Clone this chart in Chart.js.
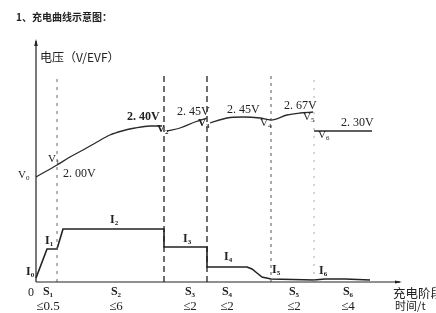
<!DOCTYPE html>
<html>
<head>
<meta charset="utf-8">
<script src="https://cdn.jsdelivr.net/npm/chart.js@4.4.0/dist/chart.umd.min.js"></script>
<style>
  html, body { margin: 0; padding: 0; background: #fff; }
</style>
</head>
<body>
<canvas id="chargeGraph" width="436" height="313"></canvas>
<script>
// stages along the time axis
const stages = ['S1', 'S2', 'S3', 'S4', 'S5', 'S6'];
const stageLimits = ['≤0.5', '≤6', '≤2', '≤2', '≤2', '≤4'];
const stageCenters = [12, 80, 154, 191, 258, 312];
const stageEnds = [21, 128, 171, 235, 278];

// voltage curve (schematic units, null = break)
const voltX = [0, 21, 34, 47, 61, 74, 86, 99, 114, 126, 128, 131, 144, 159, 171, 171, 174, 191, 207, 224, 235, 251, 264, 277];
const voltY = [105, 117, 125, 132, 140, 147, 151, 154, 156, 156, null, 151, 154, 160, 164, null, 159, 164, 165, 164, 162, 167, 169, 170];
const floatX = [278, 336];
const floatY = [151, 151];
const voltLabels = ['V0', 'V1', 'V2', 'V3', 'V4', 'V5', 'V6'];
const voltValues = ['2. 00V', '2. 40V', '2. 45V', '2. 45V', '2. 67V', '2. 30V'];

// current curve
const currX = [0, 11, 21, 27, 128, 128, 171, 171, 211, 216, 221, 226, 235, 278, 289, 309, 334];
const currY = [4, 33, 33, 53, 53, 35, 35, 15, 15, 13, 9, 5, 3, 2, 3, 3, 2];
const currLabels = ['I0', 'I1', 'I2', 'I3', 'I4', 'I5', 'I6'];

const toPoints = (xs, ys) => xs.map((v, i) => ({ x: v, y: ys[i] }));

const serif = '"Liberation Serif", "DejaVu Serif", serif';
const cjk = '"Noto Sans CJK SC", "Noto Sans", sans-serif';

function subText(ctx, main, sub, px, py, size, bold) {
    const w = bold ? 'bold ' : '';
    ctx.font = w + size + 'px ' + serif;
    ctx.fillText(main, px, py);
    const mw = ctx.measureText(main).width;
    ctx.font = w + Math.round(size * 0.62) + 'px ' + serif;
    ctx.fillText(sub, px + mw, py + size * 0.3);
}

const drawingPlugin = {
    id: 'drawing',
    afterDraw(chart) {
        const ctx = chart.ctx;
        const sx = chart.scales.x, sy = chart.scales.y;
        const X = v => sx.getPixelForValue(v);
        const Y = v => sy.getPixelForValue(v);
        ctx.save();
        ctx.fillStyle = '#222';
        ctx.strokeStyle = '#222';
        ctx.textBaseline = 'middle';

        // axes with arrows
        ctx.lineWidth = 1.2;
        ctx.beginPath();
        ctx.moveTo(X(0), Y(0));
        ctx.lineTo(X(0), Y(241));
        ctx.moveTo(X(0), Y(0));
        ctx.lineTo(X(364), Y(0));
        ctx.stroke();
        ctx.beginPath();
        ctx.moveTo(X(0), Y(243)); ctx.lineTo(X(-1.8), Y(236)); ctx.lineTo(X(1.8), Y(236)); ctx.closePath();
        ctx.moveTo(X(366), Y(0)); ctx.lineTo(X(359), Y(1.6)); ctx.lineTo(X(359), Y(-1.6)); ctx.closePath();
        ctx.fill();

        // title and axis names
        ctx.textAlign = 'left';
        ctx.font = 'bold 10px ' + cjk;
        ctx.fillText('1、充电曲线示意图：', 16, 17);
        ctx.font = '12px ' + cjk;
        ctx.fillText('电压（V/EVF）', X(4), Y(225));
        ctx.font = '12.5px ' + cjk;
        ctx.fillText('充电阶段', X(357), Y(-11));
        ctx.font = '11px ' + cjk;
        ctx.fillText('时间/t', X(359), Y(-24));

        // voltage point names and values
        const vNamePos = [[-18, 105], [12, 121], [121, 151], [162, 157], [224, 157], [267, 163], [282, 145]];
        voltLabels.forEach((t, i) => {
            subText(ctx, t[0], t.slice(1), X(vNamePos[i][0]), Y(vNamePos[i][1]) - 2, 11, i === 2 || i === 3);
        });
        const vValPos = [[27, 108], [91, 165], [141, 170], [191, 172], [248, 176], [305, 159]];
        voltValues.forEach((t, i) => {
            ctx.font = (i === 1 ? 'bold ' : '') + '12px ' + serif;
            ctx.fillText(t, X(vValPos[i][0]), Y(vValPos[i][1]));
        });

        // current names
        const iPos = [[-10, 8], [9, 39], [74, 60], [147, 41], [188, 23], [236, 10], [283, 9]];
        currLabels.forEach((t, i) => {
            subText(ctx, t[0], t.slice(1), X(iPos[i][0]), Y(iPos[i][1]) - 2, 12, true);
        });

        // time axis labels
        ctx.textAlign = 'center';
        ctx.font = '12px ' + serif;
        ctx.fillText('0', X(-5), Y(-11));
        stages.forEach((s, i) => {
            ctx.textAlign = 'left';
            ctx.font = 'bold 12px ' + serif;
            const w0 = ctx.measureText(s[0]).width;
            ctx.font = 'bold 7px ' + serif;
            const w1 = ctx.measureText(s.slice(1)).width;
            subText(ctx, s[0], s.slice(1), X(stageCenters[i]) - (w0 + w1) / 2, Y(-11) - 1, 12, true);
            ctx.textAlign = 'center';
            ctx.font = '13px ' + serif;
            ctx.fillText(stageLimits[i], X(stageCenters[i]), Y(-25));
        });
        ctx.restore();
    }
};

const dashStyles = [
    { dash: [3, 5], color: '#666', width: 1 },
    { dash: [6, 4], color: '#222', width: 1.3 },
    { dash: [6, 4], color: '#222', width: 1.3 },
    { dash: [3, 4], color: '#555', width: 1 },
    { dash: [2, 6], color: '#aaa', width: 1 }
];

const boundarySets = stageEnds.map((e, i) => ({
    data: [{ x: e, y: 0 }, { x: e, y: 207 }],
    showLine: true,
    borderColor: dashStyles[i].color,
    borderWidth: dashStyles[i].width,
    borderDash: dashStyles[i].dash,
    pointRadius: 0,
    clip: false
}));

new Chart(document.getElementById('chargeGraph'), {
    type: 'scatter',
    data: {
        datasets: [
            ...boundarySets,
            {
                label: 'voltage',
                data: toPoints(voltX, voltY),
                showLine: true,
                spanGaps: false,
                borderColor: '#2a2a2a',
                borderWidth: 1.3,
                tension: 0.4,
                cubicInterpolationMode: 'monotone',
                pointRadius: 0,
                clip: false
            },
            {
                label: 'float',
                data: toPoints(floatX, floatY),
                showLine: true,
                borderColor: '#2a2a2a',
                borderWidth: 1.3,
                pointRadius: 0,
                clip: false
            },
            {
                label: 'current',
                data: toPoints(currX, currY),
                showLine: true,
                borderColor: '#222',
                borderWidth: 1.6,
                tension: 0,
                pointRadius: 0,
                clip: false
            }
        ]
    },
    options: {
        responsive: false,
        animation: false,
        devicePixelRatio: 1,
        layout: { padding: { left: 36, right: 36, top: 42, bottom: 31 } },
        plugins: {
            legend: { display: false },
            tooltip: { enabled: false }
        },
        scales: {
            x: { type: 'linear', min: 0, max: 364, display: false },
            y: { type: 'linear', min: 0, max: 240, display: false }
        }
    },
    plugins: [drawingPlugin]
});
</script>
</body>
</html>
